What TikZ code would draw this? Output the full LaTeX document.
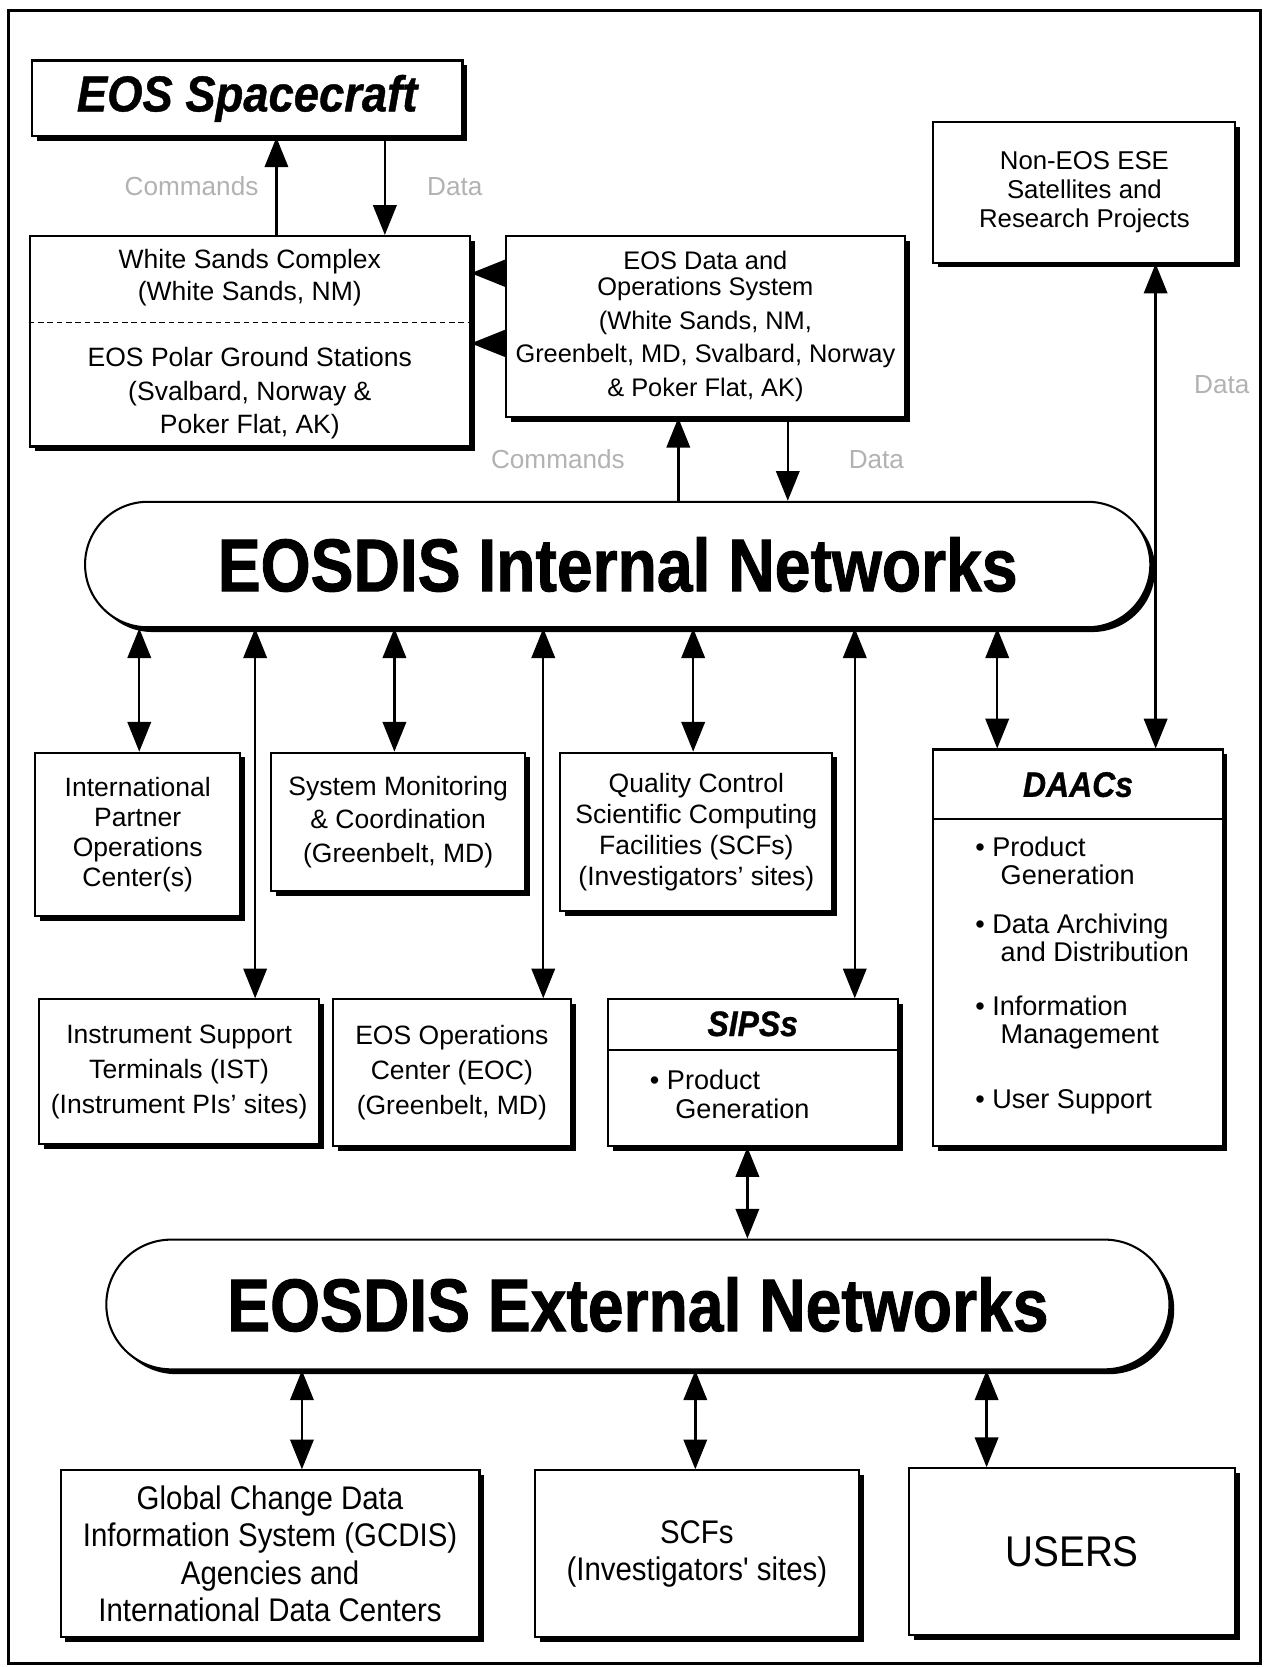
\documentclass[tikz,border=0pt]{standalone}
\usepackage{fontspec}
\setmainfont{Liberation Sans}
\newfontfamily\heavyfont[FakeStretch=0.86,FakeBold=1.2]{Liberation Sans Bold}
\newfontfamily\heavyitfont[FakeStretch=0.9,FakeBold=0.8]{Liberation Sans Bold Italic}
\newfontfamily\narrowfont[FakeStretch=0.9]{Liberation Sans}
\usetikzlibrary{arrows.meta, shadows, positioning}
\tikzset{
	x=0.02cm, y=-0.02cm,
	>={Triangle[length=5.6mm, width=4.4mm]},
	box/.style 2 args={draw, line width=1.1pt, fill=white, inner sep=0pt, align=center,
		minimum width=#1*0.02cm, minimum height=#2*0.02cm,
		drop shadow={shadow xshift=0.09cm, shadow yshift=-0.09cm, opacity=1, fill=black}},
	net/.style 2 args={box={#1}{#2}, rounded corners=#2*0.01cm},
	lsk/.style={align=center, inner sep=0pt, font=\fontsize{14.2}{#1}\selectfont},
	bigsans/.style={font=\narrowfont\fontsize{17.5}{20}\selectfont},
	dub/.style={<->, line width=1.3pt},
	sgl/.style={->, line width=1.3pt},
	wedge/.style={-{Triangle[length=6.4mm, width=5mm]}, line width=1.3pt},
	faint/.style={text=black!30, inner sep=0pt, font=\fontsize{14}{16}\selectfont}}

\begin{document}
\begin{tikzpicture}
	\useasboundingbox (0,0) rectangle (1194,1568);
	\draw[line width=1.5pt] (8,10) rectangle (1186,1565);

	% top part
	\node[box={405}{71}, line width=1.4pt, font=\heavyitfont\fontsize{27}{30}\selectfont] (craft) at (232.5,92.5) {EOS Spacecraft};
	\node[box={414}{198}] (wsc) at (235,321) {};
	\draw[dashed, dash pattern=on 3pt off 2pt, line width=0.6pt] (wsc.west |- 0,303) -- (wsc.east |- 0,303);
	\node[lsk=17pt] (wsup) at (235,261) {White Sands Complex\\(White Sands, NM)};
	\node[lsk=18pt] (wslo) at (235,370) {EOS Polar Ground Stations\\(Svalbard, Norway \&\\Poker Flat, AK)};
	\node[box={375}{170}, font=\fontsize{13.6}{18}\selectfont] (edos) at (663.5,307)
		{EOS Data and\\[-4pt]Operations System\\(White Sands, NM,\\Greenbelt, MD, Svalbard, Norway\\\& Poker Flat, AK)};
	\node[box={284}{132}, font=\fontsize{13.8}{15.6}\selectfont] (noneos) at (1020,181)
		{Non-EOS ESE\\Satellites and\\Research Projects};

	\node[net={1002}{118}, font=\heavyfont\fontsize{40}{44}\selectfont] (intnet) at (581,531) {EOSDIS Internal Networks};

	% middle boxes
	\node[box={193}{154}, lsk=16pt] (ipoc) at (129.5,785) {International\\Partner\\Operations\\Center(s)};
	\node[box={239}{130}, lsk=18pt] (smc) at (374.5,773) {System Monitoring\\\& Coordination\\(Greenbelt, MD)};
	\node[box={256}{149}, lsk=16.5pt] (qcscf) at (655,782.5) {Quality Control\\Scientific Computing\\Facilities (SCFs)\\(Investigators' sites)};
	\node[box={263}{136}, lsk=18.7pt] (ist) at (168.5,1008) {Instrument Support\\Terminals (IST)\\(Instrument PIs' sites)};
	\node[box={224}{138}, lsk=18.7pt] (eoc) at (425,1009) {EOS Operations\\Center (EOC)\\(Greenbelt, MD)};

	\node[box={273}{138}] (sips) at (708.5,1009) {};
	\draw[line width=1.1pt] (sips.west |- 0,988) -- (sips.east |- 0,988);
	\node[font=\heavyitfont\fontsize{19}{22}\selectfont] (sipstitle) at (708,963) {SIPSs};
	\node[anchor=north west, align=left, inner sep=0pt, font=\fontsize{14.5}{15.3}\selectfont] (sipslist) at (611,1006)
		{• Product\\\hspace{0.94em}Generation};

	\node[box={272}{373}] (daacs) at (1014,891.5) {};
	\draw[line width=1.1pt] (daacs.west |- 0,770) -- (daacs.east |- 0,770);
	\node[font=\heavyitfont\fontsize{19}{22}\selectfont] (daacstitle) at (1014,738) {DAACs};
	\node[anchor=north west, align=left, inner sep=0pt, font=\fontsize{14.5}{14.9}\selectfont] (daaclist) at (917,787)
		{• Product\\\hspace{0.94em}Generation\\[0.4cm]
		 • Data Archiving\\\hspace{0.94em}and Distribution\\[0.5cm]
		 • Information\\\hspace{0.94em}Management\\[0.7cm]
		 • User Support};

	\node[net={1000}{122}, font=\heavyfont\fontsize{40}{44}\selectfont] (extnet) at (600,1227) {EOSDIS External Networks};

	% bottom boxes
	\node[box={394}{157}, bigsans] (gcdis) at (254,1461.5) {Global Change Data\\Information System (GCDIS)\\Agencies and\\International Data Centers};
	\node[box={305}{157}, bigsans] (scfs) at (655.5,1461.5) {SCFs\\(Investigators' sites)};
	\node[box={307}{157}, font=\narrowfont\fontsize{23}{26}\selectfont] (users) at (1008.5,1459.5) {USERS};

	% connectors
	\draw[sgl] (wsc.north -| 260,0) -- (craft.south -| 260,0) node[faint, midway, left=9pt] (cmdup) {Commands};
	\draw[sgl] (craft.south -| 362,0) -- (wsc.north -| 362,0) node[faint, midway, right=22pt] (datadown) {Data};
	\draw[wedge] (edos.west |- 0,257) -- (wsc.east |- 0,257);
	\draw[wedge] (edos.west |- 0,323) -- (wsc.east |- 0,323);
	\draw[sgl] (intnet.north -| 638,0) -- (edos.south -| 638,0) node[faint, midway, left=28pt] (cmdedos) {Commands};
	\draw[sgl] (edos.south -| 741,0) -- (intnet.north -| 741,0) node[faint, midway, right=32pt] (dataedos) {Data};
	\draw[dub] (noneos.south -| 1087,0) -- (daacs.north -| 1087,0) node[faint, pos=0.25, right=20pt] (datanon) {Data};

	\draw[dub] (intnet.south -| 131,0) -- (ipoc.north -| 131,0);
	\draw[dub] (intnet.south -| 240,0) -- (ist.north -| 240,0);
	\draw[dub] (intnet.south -| 371,0) -- (smc.north -| 371,0);
	\draw[dub] (intnet.south -| 511,0) -- (eoc.north -| 511,0);
	\draw[dub] (intnet.south -| 652,0) -- (qcscf.north -| 652,0);
	\draw[dub] (intnet.south -| 804,0) -- (sips.north -| 804,0);
	\draw[dub] (intnet.south -| 938,0) -- (daacs.north -| 938,0);

	\draw[dub] (sips.south -| 703,0) -- (extnet.north -| 703,0);
	\draw[dub] (extnet.south -| 284,0) -- (gcdis.north -| 284,0);
	\draw[dub] (extnet.south -| 654,0) -- (scfs.north -| 654,0);
	\draw[dub] (extnet.south -| 928,0) -- (users.north -| 928,0);
\end{tikzpicture}
\end{document}
